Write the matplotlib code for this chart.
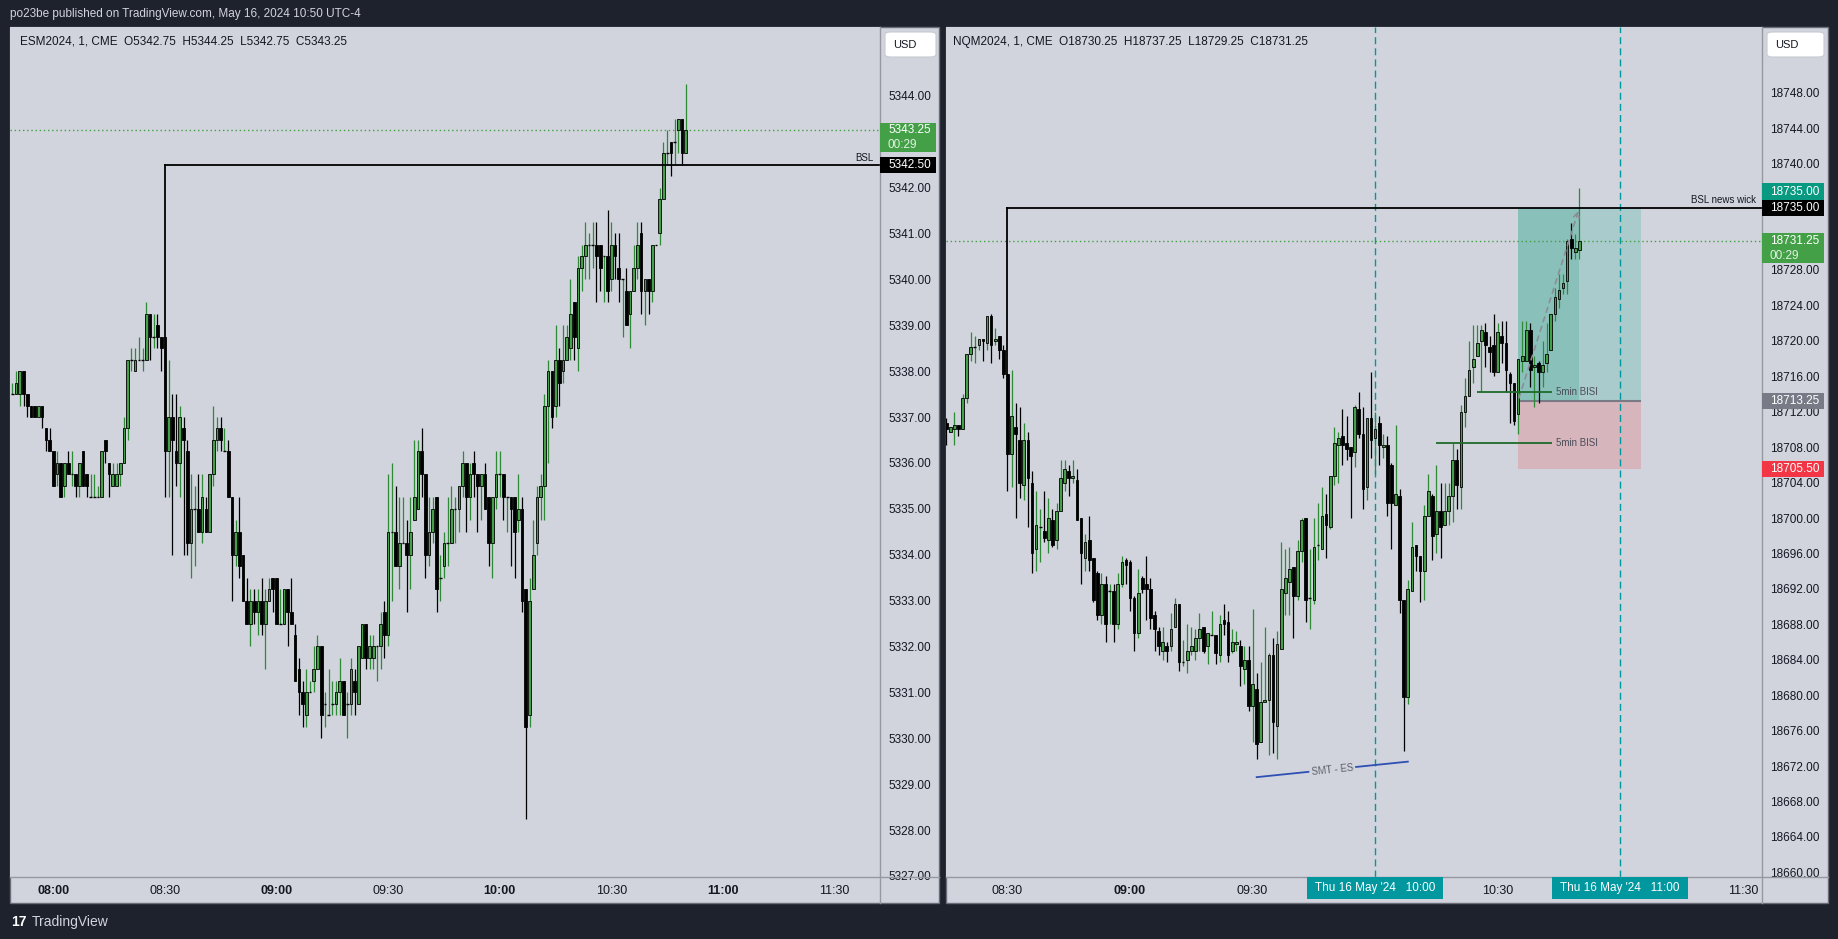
import numpy as np
import matplotlib.pyplot as plt
from matplotlib.patches import Rectangle, FancyBboxPatch
from matplotlib.lines import Line2D

plt.rcParams['font.family'] = ['Liberation Sans', 'DejaVu Sans']

# ---------------- data (1-minute bars, x = minutes after 08:00) ----------------
es_first = -11   # 07:49
es_open = [5337.5, 5337.5, 5337.5, 5338.0, 5337.5, 5337.25, 5337.25, 5337.0, 5337.25, 5336.75, 5336.5,
           5336.25, 5335.75, 5336.0, 5335.5, 5336.0, 5335.75, 5335.75, 5335.5, 5336.25, 5335.75,
           5335.25, 5335.25, 5335.25, 5335.25, 5336.5, 5336.0, 5335.5, 5335.5, 5335.75, 5336.0,
           5336.75, 5338.25, 5338.0, 5338.25, 5338.25, 5338.25, 5339.25, 5338.75, 5339.0, 5338.75,
           5338.75, 5336.25, 5337.0, 5336.25, 5336.0, 5336.75, 5336.25, 5334.25, 5335.0, 5335.0,
           5334.5, 5335.0, 5334.5, 5335.75, 5336.5, 5336.75, 5336.25, 5336.25, 5335.25, 5334.0,
           5334.5, 5334.0, 5333.0, 5332.5, 5333.0, 5332.75, 5333.0, 5332.5, 5333.0, 5333.5,
           5333.5, 5332.5, 5332.5, 5333.25, 5332.75, 5332.25, 5331.5, 5331.0, 5330.5, 5331.0,
           5331.25, 5331.5, 5332.0, 5330.75, 5330.5, 5330.75, 5330.75, 5331.0, 5331.25, 5330.75,
           5330.75, 5331.25, 5330.75, 5331.75, 5332.5, 5331.75, 5331.75, 5332.0, 5332.0, 5332.75,
           5332.25, 5334.5, 5334.5, 5333.75, 5334.25, 5334.25, 5334.0, 5334.75, 5335.0, 5336.25,
           5335.75, 5334.0, 5334.5, 5335.25, 5333.5, 5333.75, 5334.25, 5334.25, 5335.0, 5335.0,
           5335.5, 5336.0, 5335.25, 5336.0, 5335.75, 5335.5, 5335.75, 5335.25, 5334.25, 5335.25,
           5335.75, 5335.75, 5335.25, 5335.25, 5335.25, 5334.75, 5335.0, 5333.25, 5330.5, 5333.25,
           5334.25, 5335.25, 5335.5, 5337.25, 5338.0, 5337.25, 5338.25, 5338.0, 5338.25, 5338.5,
           5339.5, 5338.5, 5340.25, 5340.5, 5340.75, 5340.75, 5340.75, 5340.75, 5340.5, 5340.5,
           5340.0, 5340.75, 5340.25, 5340.0, 5339.75, 5339.25, 5339.75, 5340.25, 5341.0, 5339.75,
           5340.0, 5339.75, 5340.75, 5341.0, 5341.75, 5342.75, 5343.0, 5343.0, 5343.25, 5343.5,
           5342.75]
es_high = [5337.75, 5338.0, 5338.0, 5338.0, 5337.5, 5337.25, 5337.25, 5337.25, 5337.25, 5336.75, 5336.75,
           5336.25, 5336.25, 5336.0, 5336.0, 5336.25, 5336.25, 5335.75, 5336.0, 5336.25, 5335.75,
           5335.75, 5335.75, 5335.5, 5336.25, 5336.5, 5336.0, 5336.0, 5336.0, 5336.0, 5337.0,
           5338.25, 5338.5, 5338.5, 5338.75, 5338.5, 5339.5, 5339.25, 5339.25, 5339.25, 5338.75,
           5338.75, 5338.25, 5337.5, 5337.5, 5337.25, 5337.0, 5336.5, 5335.75, 5335.5, 5335.75,
           5335.75, 5335.25, 5335.75, 5337.25, 5337.0, 5337.0, 5336.75, 5336.5, 5335.25, 5334.75,
           5335.25, 5334.0, 5333.5, 5333.25, 5333.25, 5333.25, 5333.5, 5333.25, 5333.5, 5333.5,
           5333.5, 5333.25, 5333.25, 5333.25, 5333.5, 5332.5, 5331.75, 5331.25, 5331.5, 5331.25,
           5332.0, 5332.25, 5332.0, 5331.0, 5331.5, 5331.25, 5331.25, 5331.75, 5331.25, 5331.0,
           5331.75, 5331.5, 5332.0, 5332.5, 5332.5, 5332.25, 5332.25, 5332.0, 5332.75, 5333.0,
           5335.75, 5336.0, 5335.5, 5335.25, 5335.25, 5334.75, 5335.25, 5336.5, 5336.5, 5336.75,
           5335.75, 5335.25, 5335.25, 5335.25, 5334.0, 5334.5, 5335.25, 5335.5, 5335.25, 5335.5,
           5336.25, 5336.0, 5336.0, 5336.25, 5335.75, 5335.75, 5336.0, 5335.25, 5335.25, 5336.25,
           5336.25, 5335.75, 5335.25, 5335.25, 5335.25, 5335.75, 5335.25, 5333.25, 5333.5, 5334.75,
           5335.5, 5335.75, 5337.5, 5338.25, 5338.0, 5339.0, 5338.5, 5339.0, 5339.0, 5340.0,
           5339.5, 5340.5, 5340.75, 5341.25, 5341.0, 5341.25, 5341.25, 5340.75, 5340.5, 5341.5,
           5341.25, 5341.0, 5341.0, 5340.0, 5340.25, 5339.75, 5340.75, 5341.25, 5341.25, 5340.0,
           5340.0, 5340.75, 5340.75, 5342.0, 5343.0, 5343.25, 5343.0, 5343.5, 5343.5, 5343.5,
           5344.25]
es_low = [5337.5, 5337.5, 5337.25, 5337.25, 5337.0, 5337.0, 5337.0, 5337.0, 5336.75, 5336.25, 5336.25,
          5335.5, 5335.5, 5335.25, 5335.25, 5335.75, 5335.5, 5335.25, 5335.25, 5335.5, 5335.25,
          5335.25, 5335.25, 5335.25, 5335.25, 5336.0, 5335.25, 5335.5, 5335.5, 5335.5, 5336.0,
          5336.5, 5338.0, 5338.0, 5338.25, 5338.0, 5338.25, 5338.25, 5338.5, 5338.5, 5338.0,
          5335.25, 5335.25, 5334.0, 5335.5, 5335.25, 5334.0, 5334.0, 5333.5, 5333.75, 5334.5,
          5334.25, 5334.5, 5334.5, 5335.5, 5336.25, 5336.25, 5336.25, 5335.25, 5333.0, 5333.75,
          5333.5, 5333.0, 5332.5, 5332.0, 5332.5, 5332.25, 5332.25, 5331.5, 5333.0, 5332.75,
          5332.5, 5332.5, 5332.5, 5332.0, 5332.5, 5331.25, 5330.5, 5330.25, 5330.25, 5331.0,
          5331.0, 5331.5, 5330.0, 5330.25, 5330.5, 5330.5, 5330.5, 5330.5, 5330.5, 5330.0,
          5330.5, 5330.5, 5330.75, 5331.75, 5331.5, 5331.5, 5331.5, 5331.25, 5331.5, 5331.75,
          5332.0, 5333.0, 5333.75, 5333.25, 5334.25, 5332.75, 5333.25, 5334.75, 5335.0, 5335.25,
          5333.5, 5333.75, 5334.25, 5332.75, 5333.0, 5333.5, 5333.75, 5334.25, 5334.25, 5334.5,
          5335.25, 5334.5, 5334.75, 5335.25, 5334.5, 5334.75, 5335.0, 5333.75, 5333.5, 5335.0,
          5335.25, 5334.75, 5334.5, 5333.75, 5333.5, 5334.5, 5332.75, 5328.25, 5330.25, 5333.25,
          5334.0, 5334.75, 5334.75, 5336.0, 5336.75, 5337.0, 5337.25, 5337.75, 5338.25, 5338.25,
          5338.25, 5338.0, 5339.75, 5340.0, 5340.0, 5340.25, 5339.5, 5339.75, 5339.5, 5339.5,
          5339.75, 5340.0, 5339.5, 5338.75, 5339.0, 5338.5, 5339.75, 5340.0, 5339.25, 5339.0,
          5339.25, 5339.5, 5340.75, 5340.75, 5341.75, 5342.5, 5342.25, 5342.5, 5342.75, 5342.5,
          5342.75]
es_close = [5337.5, 5337.75, 5338.0, 5337.5, 5337.25, 5337.0, 5337.0, 5337.25, 5337.0, 5336.5, 5336.25,
            5335.5, 5336.0, 5335.25, 5336.0, 5335.75, 5335.75, 5335.5, 5336.0, 5335.5, 5335.5,
            5335.25, 5335.25, 5335.25, 5336.25, 5336.25, 5335.75, 5335.75, 5335.75, 5336.0, 5336.75,
            5338.25, 5338.25, 5338.25, 5338.25, 5338.25, 5339.25, 5338.75, 5338.75, 5338.75, 5338.5,
            5336.25, 5337.0, 5336.5, 5336.0, 5337.0, 5336.5, 5334.25, 5335.0, 5335.0, 5334.5,
            5335.25, 5334.5, 5335.75, 5336.5, 5336.75, 5336.5, 5336.25, 5335.25, 5334.0, 5334.5,
            5333.75, 5333.0, 5332.5, 5333.0, 5332.75, 5333.0, 5332.5, 5333.0, 5333.25, 5333.25,
            5332.5, 5332.5, 5333.25, 5332.75, 5332.5, 5331.25, 5331.0, 5330.75, 5331.0, 5331.0,
            5331.5, 5332.0, 5330.5, 5330.75, 5330.5, 5330.75, 5331.0, 5331.25, 5330.5, 5330.75,
            5331.5, 5331.0, 5332.0, 5332.5, 5331.75, 5332.0, 5332.0, 5332.0, 5332.5, 5332.25,
            5334.5, 5334.5, 5333.75, 5334.25, 5334.25, 5334.0, 5334.5, 5335.25, 5336.25, 5335.75,
            5334.0, 5334.5, 5335.0, 5333.25, 5333.5, 5334.25, 5334.25, 5335.0, 5335.0, 5335.5,
            5336.0, 5335.25, 5335.75, 5335.75, 5335.5, 5335.75, 5335.0, 5334.25, 5335.25, 5335.75,
            5335.75, 5335.25, 5335.25, 5335.0, 5334.5, 5335.0, 5333.0, 5330.25, 5333.0, 5334.0,
            5335.25, 5335.5, 5337.25, 5338.0, 5337.0, 5338.25, 5337.75, 5338.25, 5338.75, 5339.25,
            5338.75, 5340.25, 5340.5, 5340.75, 5340.75, 5340.75, 5340.5, 5340.25, 5340.5, 5339.75,
            5340.75, 5340.5, 5340.0, 5340.0, 5339.0, 5339.75, 5340.25, 5340.75, 5339.75, 5340.0,
            5339.75, 5340.75, 5340.75, 5341.75, 5342.75, 5342.75, 5342.75, 5343.0, 5343.5, 5342.75,
            5343.25]

nq_first = 15   # 08:15
nq_open = [18710.75, 18709.75, 18710.0, 18710.5, 18710.0, 18713.5, 18718.5, 18719.25, 18719.5, 18720.25,
           18719.75, 18722.75, 18720.0, 18720.5, 18719.0, 18716.25, 18707.25, 18710.25, 18708.75, 18703.75,
           18708.75, 18704.0, 18696.5, 18699.0, 18698.5, 18697.5, 18699.75, 18697.5, 18700.75, 18704.0,
           18705.25, 18704.5, 18704.25, 18700.0, 18695.5, 18697.5, 18695.5, 18693.75, 18689.0, 18692.5,
           18691.75, 18691.75, 18688.0, 18692.5, 18695.25, 18695.0, 18691.0, 18687.0, 18693.25, 18692.5,
           18692.0, 18689.0, 18687.25, 18685.0, 18685.5, 18685.5, 18687.75, 18690.25, 18683.75, 18684.0,
           18685.0, 18685.0, 18686.5, 18687.75, 18685.5, 18686.75, 18686.75, 18684.5, 18688.5, 18688.25,
           18685.0, 18685.75, 18685.5, 18683.0, 18684.0, 18678.75, 18680.75, 18674.75, 18679.25, 18679.5,
           18684.5, 18676.5, 18685.25, 18691.5, 18692.75, 18694.5, 18691.25, 18696.25, 18700.0, 18691.0,
           18690.75, 18697.0, 18696.5, 18700.5, 18699.0, 18704.75, 18708.25, 18709.25, 18708.5, 18708.0,
           18707.5, 18712.25, 18709.5, 18703.5, 18711.25, 18709.0, 18710.75, 18708.0, 18708.25, 18706.0,
           18701.5, 18702.5, 18690.75, 18679.75, 18691.75, 18697.0, 18695.75, 18694.0, 18700.25, 18702.5,
           18698.25, 18700.75, 18699.25, 18700.75, 18702.5, 18706.5, 18703.5, 18712.0, 18713.75, 18717.0,
           18718.25, 18720.0, 18721.0, 18719.25, 18719.5, 18716.5, 18720.5, 18719.75, 18716.25, 18715.25,
           18711.75, 18717.75, 18717.75, 18721.25, 18717.0, 18717.5, 18716.5, 18717.5, 18719.0, 18723.0,
           18724.75, 18726.0, 18726.75, 18731.5, 18730.0, 18730.25]
nq_high = [18711.25, 18710.25, 18712.0, 18710.5, 18714.0, 18718.5, 18721.0, 18720.5, 18720.25, 18720.25,
           18722.75, 18723.0, 18721.5, 18720.5, 18719.5, 18716.25, 18716.75, 18713.0, 18712.5, 18710.75,
           18709.75, 18705.25, 18703.0, 18701.0, 18703.0, 18702.25, 18701.0, 18701.75, 18706.5, 18706.5,
           18706.0, 18706.5, 18705.5, 18700.0, 18698.25, 18700.25, 18695.5, 18694.0, 18693.75, 18693.5,
           18692.5, 18692.5, 18693.75, 18695.75, 18695.5, 18695.25, 18691.25, 18694.25, 18693.5, 18695.75,
           18693.25, 18689.5, 18687.75, 18687.75, 18686.0, 18689.25, 18691.0, 18690.25, 18686.25, 18688.0,
           18687.75, 18687.5, 18689.25, 18687.75, 18687.0, 18689.5, 18686.75, 18689.0, 18690.25, 18689.5,
           18687.5, 18687.25, 18686.25, 18685.5, 18685.5, 18689.75, 18682.5, 18683.75, 18687.75, 18684.75,
           18686.5, 18687.25, 18697.25, 18696.5, 18696.75, 18694.5, 18697.5, 18700.0, 18700.0, 18696.5,
           18700.0, 18701.75, 18703.5, 18702.75, 18704.75, 18710.25, 18709.75, 18712.25, 18711.5, 18708.0,
           18712.75, 18714.25, 18712.5, 18711.25, 18716.5, 18712.0, 18711.5, 18709.5, 18709.25, 18706.25,
           18710.5, 18703.25, 18690.75, 18693.0, 18699.5, 18697.0, 18695.75, 18701.5, 18705.0, 18702.75,
           18706.0, 18704.0, 18704.0, 18704.0, 18708.5, 18707.75, 18712.75, 18715.75, 18720.0, 18721.75,
           18721.75, 18721.75, 18722.0, 18720.5, 18723.0, 18722.0, 18722.25, 18722.25, 18716.5, 18715.25,
           18718.0, 18722.25, 18722.25, 18722.0, 18718.25, 18717.75, 18720.0, 18722.0, 18723.0, 18726.0,
           18727.5, 18727.5, 18731.5, 18733.25, 18732.0, 18737.25]
nq_low = [18708.25, 18709.75, 18708.25, 18709.25, 18710.0, 18713.0, 18717.75, 18717.5, 18719.0, 18717.75,
          18719.0, 18717.5, 18719.5, 18718.0, 18715.75, 18703.0, 18703.5, 18700.0, 18702.25, 18702.0,
          18699.0, 18693.75, 18694.0, 18695.0, 18697.25, 18696.0, 18696.75, 18696.5, 18700.75, 18703.0,
          18702.5, 18704.0, 18699.75, 18692.5, 18694.0, 18694.0, 18690.5, 18688.5, 18688.0, 18686.0,
          18688.0, 18686.0, 18687.5, 18692.25, 18692.5, 18689.5, 18685.0, 18686.5, 18691.5, 18688.5,
          18687.5, 18685.0, 18684.5, 18684.0, 18683.75, 18685.0, 18687.75, 18682.75, 18683.25, 18682.5,
          18684.5, 18684.0, 18685.0, 18684.75, 18683.5, 18686.75, 18683.5, 18683.75, 18686.75, 18683.75,
          18684.75, 18685.0, 18681.0, 18681.25, 18678.25, 18674.75, 18672.75, 18674.75, 18679.25, 18673.25,
          18673.5, 18672.75, 18685.25, 18689.0, 18689.0, 18686.5, 18690.75, 18695.0, 18688.25, 18687.5,
          18690.25, 18695.25, 18696.5, 18695.5, 18698.75, 18703.75, 18704.0, 18706.0, 18706.5, 18700.0,
          18705.75, 18709.0, 18701.0, 18702.0, 18706.75, 18705.0, 18706.0, 18706.75, 18700.25, 18696.5,
          18701.5, 18689.25, 18673.75, 18679.0, 18691.75, 18694.0, 18690.5, 18690.75, 18700.25, 18695.25,
          18696.0, 18695.5, 18699.25, 18699.25, 18699.5, 18701.0, 18701.0, 18710.25, 18713.75, 18715.25,
          18718.25, 18714.25, 18717.0, 18716.5, 18716.0, 18716.5, 18717.5, 18714.25, 18710.75, 18710.5,
          18709.5, 18716.5, 18717.75, 18714.75, 18712.5, 18713.0, 18714.75, 18716.5, 18719.0, 18722.25,
          18723.75, 18725.25, 18725.25, 18729.25, 18729.25, 18729.25]
nq_close = [18710.0, 18710.25, 18710.5, 18710.0, 18713.5, 18718.5, 18719.25, 18719.25, 18720.25, 18720.0,
            18722.75, 18719.5, 18720.25, 18719.0, 18716.25, 18707.25, 18711.5, 18709.5, 18704.0, 18708.75,
            18704.5, 18696.0, 18699.25, 18699.0, 18697.75, 18700.0, 18697.0, 18700.75, 18704.5, 18705.5,
            18704.5, 18704.75, 18699.75, 18696.0, 18697.25, 18695.25, 18690.75, 18689.0, 18692.5, 18688.0,
            18691.75, 18688.0, 18692.5, 18695.0, 18694.75, 18691.0, 18687.0, 18691.5, 18692.0, 18692.0,
            18688.75, 18687.5, 18685.5, 18686.0, 18685.0, 18687.5, 18690.25, 18683.75, 18683.75, 18685.0,
            18685.5, 18686.5, 18687.5, 18685.0, 18687.0, 18686.75, 18684.75, 18688.0, 18688.0, 18684.5,
            18686.0, 18686.0, 18683.25, 18684.0, 18678.75, 18681.25, 18674.5, 18679.25, 18679.5, 18684.5,
            18677.0, 18685.75, 18692.0, 18693.25, 18694.25, 18691.25, 18696.25, 18699.75, 18690.75, 18691.0,
            18696.75, 18697.0, 18700.25, 18699.25, 18704.75, 18708.5, 18709.0, 18708.25, 18707.75, 18707.0,
            18712.5, 18709.5, 18703.25, 18711.25, 18708.75, 18710.0, 18708.25, 18708.25, 18701.75, 18701.75,
            18702.75, 18690.75, 18679.75, 18692.0, 18696.75, 18695.75, 18694.0, 18700.25, 18703.0, 18698.0,
            18700.75, 18699.0, 18700.75, 18702.5, 18706.5, 18703.75, 18712.0, 18713.75, 18716.75, 18718.0,
            18719.75, 18721.25, 18719.5, 18718.75, 18716.5, 18721.0, 18719.75, 18716.75, 18715.25, 18711.0,
            18718.0, 18718.25, 18721.25, 18716.75, 18717.25, 18716.5, 18717.25, 18718.5, 18723.0, 18725.0,
            18725.75, 18726.5, 18731.25, 18730.5, 18730.5, 18731.25]

# axis labels (labels hidden under the price / time tags are left out)
es_yticks = [5327, 5328, 5329, 5330, 5331, 5332, 5333, 5334, 5335, 5336, 5337, 5338,
             5339, 5340, 5341, 5342, 5344]
nq_yticks = [18660, 18664, 18668, 18672, 18676, 18680, 18684, 18688, 18692, 18696, 18700,
             18704, 18708, 18712, 18716, 18720, 18724, 18728, 18740, 18744, 18748]
es_ticks_t = [0, 30, 60, 90, 120, 150, 180, 210]
es_tick_lbl = ['08:00', '08:30', '09:00', '09:30', '10:00', '10:30', '11:00', '11:30']
nq_ticks_t = [30, 60, 90, 150, 210]
nq_tick_lbl = ['08:30', '09:00', '09:30', '10:30', '11:30']

# drawings
es_bsl, es_bsl_t, es_bsl_anchor = 5342.5, 30, 5338.75
nq_bsl, nq_bsl_t, nq_bsl_anchor = 18735.0, 30, 18716.25
nq_session_t = [120, 180]
nq_session_lbl = ["Thu 16 May '24   10:00", "Thu 16 May '24   11:00"]
nq_entry, nq_target, nq_stop = 18713.25, 18735.0, 18705.5
nq_pos_t = [155, 170, 185]          # start, current bar, end
nq_bisi = [(18714.25, 145, 163.3), (18708.5, 135, 163.3)]
nq_smt = [(91, 18670.75), (128, 18672.5)]

# ---------------- layout ----------------
W, H = 1838, 939
BG, PANEL, INK = '#1e222d', '#d1d4dc', '#131722'
UP_BODY, UP_WICK = '#43a047', '#2e8b35'
TEAL = '#00979f'
SEP = '#9598a1'

fig = plt.figure(figsize=(W / 100, H / 100), dpi=100, facecolor=BG)


def px_rect(x0, y0, x1, y1, **kw):
    fig.add_artist(Rectangle((x0 / W, 1 - y1 / H), (x1 - x0) / W, (y1 - y0) / H,
                             transform=fig.transFigure, **kw))


def px_text(x, y, s, **kw):
    fig.text(x / W, 1 - y / H, s, **kw)


def px_line(xs, ys, **kw):
    fig.add_artist(Line2D([x / W for x in xs], [1 - y / H for y in ys],
                          transform=fig.transFigure, **kw))


def candles(ax, first, o, h, l, c, width):
    o, h, l, c = map(np.asarray, (o, h, l, c))
    h = np.maximum(h, np.maximum(o, c))
    l = np.minimum(l, np.minimum(o, c))
    t = first + np.arange(len(o))
    up, dn, fl = c > o, c < o, c == o
    ax.vlines(t[up | fl], l[up | fl], h[up | fl], color=UP_WICK, lw=0.9, zorder=2)
    ax.vlines(t[dn], l[dn], h[dn], color='black', lw=0.9, zorder=2)
    ax.bar(t[up], c[up] - o[up], width, bottom=o[up], color=UP_BODY,
           edgecolor='black', lw=0.6, zorder=3)
    ax.bar(t[dn], o[dn] - c[dn], width, bottom=c[dn], color='black',
           edgecolor='black', lw=0.6, zorder=3)
    ax.hlines(c[fl], t[fl] - width / 2, t[fl] + width / 2, color='black', lw=1.0, zorder=3)


def panel(left, right, plot_right, xlim, ylim, yticks, ticks_t, tick_lbl):
    px_rect(left, 27, right, 903, facecolor=PANEL, edgecolor='#6a6d78', lw=1, zorder=-5)
    ax = fig.add_axes([left / W, 1 - 877 / H, (plot_right - left) / W, 850 / H])
    ax.set_facecolor(PANEL)
    for s in ax.spines.values():
        s.set_visible(False)
    ax.set_xlim(*xlim)
    ax.set_ylim(*ylim)
    ax.yaxis.tick_right()
    ax.set_yticks(yticks)
    ax.set_yticklabels([f'{v:.2f}' for v in yticks])
    ax.tick_params(axis='y', length=0, pad=6, labelsize=8.5, labelcolor=INK)
    ax.set_xticks(ticks_t)
    ax.set_xticklabels(tick_lbl)
    ax.tick_params(axis='x', length=0, pad=6, labelsize=9, labelcolor=INK)
    for lbl in ax.get_xticklabels():
        if lbl.get_text().endswith(':00'):
            lbl.set_fontweight('bold')
    px_line([plot_right, plot_right], [27, 903], color=SEP, lw=1, zorder=4)
    px_line([left, right], [877, 877], color=SEP, lw=1, zorder=4)
    return ax


def mapper(left, plot_right, xlim, ylim):
    def f(t, p):
        x = left + (t - xlim[0]) / (xlim[1] - xlim[0]) * (plot_right - left)
        y = 27 + (ylim[1] - p) / (ylim[1] - ylim[0]) * 850
        return x, y
    return f


def tag(x0, x1, y0, y1, color, texts):
    px_rect(x0, y0, x1, y1, facecolor=color, edgecolor='none', zorder=5)
    for yy, s, a in texts:
        px_text(x0 + 8, yy, s, color='white', fontsize=8.5, va='center', ha='left',
                alpha=a, zorder=6)


def usd(x0, x1):
    fig.add_artist(FancyBboxPatch((x0 / W, 1 - 57 / H), (x1 - x0) / W, 25 / H,
                                  boxstyle='round,pad=0,rounding_size=0.003',
                                  transform=fig.transFigure, facecolor='white',
                                  edgecolor='#c8cad2', lw=0.8, zorder=5))
    px_text(x0 + 8, 45, 'USD', color=INK, fontsize=8, va='center', ha='left', zorder=6)


# ---------------- ES panel ----------------
es_xlim, es_ylim = (-11.64, 222.2), (5326.978, 5345.497)
ax1 = panel(10, 939, 880, es_xlim, es_ylim, es_yticks, es_ticks_t, es_tick_lbl)
candles(ax1, es_first, es_open, es_high, es_low, es_close, 0.72)
ax1.axhline(es_close[-1], color='#43a047', lw=1, ls=(0, (1, 2)), zorder=1)
ax1.plot([es_bsl_t, es_xlim[1]], [es_bsl, es_bsl], color='black', lw=1.3, zorder=4)
ax1.plot([es_bsl_t, es_bsl_t], [es_bsl, es_bsl_anchor], color='black', lw=1.3, zorder=4)
m1 = mapper(10, 880, es_xlim, es_ylim)
_, yb = m1(0, es_bsl)
px_text(874, yb - 7, 'BSL', color=INK, fontsize=7, ha='right', va='center')
_, yc = m1(0, es_close[-1])
tag(880, 936, yc - 7.5, yc + 21.5, '#43a047',
    [(yc, f'{es_close[-1]:.2f}', 1), (yc + 14.5, '00:29', 0.85)])
tag(880, 936, yb - 8, yb + 8, 'black', [(yb, f'{es_bsl:.2f}', 1)])
usd(885, 936)
px_text(20, 42, 'ESM2024, 1, CME  O5342.75  H5344.25  L5342.75  C5343.25',
        color=INK, fontsize=8.5, va='center')

# ---------------- NQ panel ----------------
nq_xlim, nq_ylim = (14.95, 214.7), (18659.48, 18755.42)
ax2 = panel(946, 1828, 1762, nq_xlim, nq_ylim, nq_yticks, nq_ticks_t, nq_tick_lbl)
m2 = mapper(946, 1762, nq_xlim, nq_ylim)

t0, tc, t1 = nq_pos_t
ax2.add_patch(Rectangle((t0, nq_entry), t1 - t0, nq_target - nq_entry,
                        facecolor='#a9cbcb', edgecolor='none', zorder=1))
ax2.add_patch(Rectangle((t0, nq_entry), tc - t0, nq_target - nq_entry,
                        facecolor='#8ac0ba', edgecolor='none', zorder=1))
ax2.add_patch(Rectangle((t0, nq_stop), t1 - t0, nq_entry - nq_stop,
                        facecolor='#d6b5bd', edgecolor='none', zorder=1))
ax2.hlines(nq_entry, t0, t1, color='#787b86', lw=1.5, zorder=1.5)

for ts in nq_session_t:
    ax2.axvline(ts, color=TEAL, lw=1, ls=(0, (5, 3)), zorder=1.2)

candles(ax2, nq_first, nq_open, nq_high, nq_low, nq_close, 0.66)
ax2.axhline(nq_close[-1], color='#43a047', lw=1, ls=(0, (1, 2)), zorder=1.3)

ax2.annotate('', xy=(tc, nq_target), xytext=(t0, nq_entry),
             arrowprops=dict(arrowstyle='->', ls=(0, (3, 3)), color='#8a8d96', lw=1.2),
             zorder=4)

ax2.plot([nq_bsl_t, nq_xlim[1]], [nq_bsl, nq_bsl], color='black', lw=1.3, zorder=4)
ax2.plot([nq_bsl_t, nq_bsl_t], [nq_bsl, nq_bsl_anchor], color='black', lw=1.3, zorder=4)

for price, ta, tb in nq_bisi:
    ax2.hlines(price, ta, tb, color='#1e6b2a', lw=1.3, zorder=4)
    ax2.text(tb + 1, price, '5min BISI', fontsize=7, color='#4a4d57', va='center',
             ha='left', zorder=4)

(sx0, sy0), (sx1, sy1) = nq_smt
ax2.plot([sx0, sx1], [sy0, sy1], color='#2e4fb3', lw=1.3, zorder=4)
pa = m2(sx0, sy0)
pb = m2(sx1, sy1)
ang = np.degrees(np.arctan2(pa[1] - pb[1], pb[0] - pa[0]))
ax2.text((sx0 + sx1) / 2, (sy0 + sy1) / 2, 'SMT - ES', fontsize=7, color='#5d606b',
         rotation=ang, rotation_mode='anchor', ha='center', va='center', zorder=5,
         bbox=dict(facecolor=PANEL, edgecolor='none', pad=1.5))

_, yb2 = m2(0, nq_bsl)
px_text(1756, yb2 - 8, 'BSL news wick', color=INK, fontsize=7, ha='right', va='center')
tag(1762, 1824, yb2 - 24.5, yb2 - 8, '#089981', [(yb2 - 16.3, f'{nq_target:.2f}', 1)])
tag(1762, 1824, yb2 - 8, yb2 + 8, 'black', [(yb2, f'{nq_bsl:.2f}', 1)])
_, yc2 = m2(0, nq_close[-1])
tag(1762, 1824, yc2 - 8.4, yc2 + 22, '#43a047',
    [(yc2, f'{nq_close[-1]:.2f}', 1), (yc2 + 15, '00:29', 0.85)])
_, ye = m2(0, nq_entry)
tag(1762, 1824, ye - 8, ye + 8, '#787b86', [(ye, f'{nq_entry:.2f}', 1)])
_, ys = m2(0, nq_stop)
tag(1762, 1824, ys - 8, ys + 8, '#f23645', [(ys, f'{nq_stop:.2f}', 1)])

for ts, lab in zip(nq_session_t, nq_session_lbl):
    xs, _ = m2(ts, nq_ylim[0])
    px_rect(xs - 68, 877, xs + 68, 899, facecolor=TEAL, edgecolor='none', zorder=5)
    px_text(xs, 888.5, lab, color='white', fontsize=8.5, ha='center', va='center', zorder=6)

usd(1767, 1824)
px_text(953, 42, 'NQM2024, 1, CME  O18730.25  H18737.25  L18729.25  C18731.25',
        color=INK, fontsize=8.5, va='center')

# ---------------- page chrome ----------------
px_text(10, 14.5, 'po23be published on TradingView.com, May 16, 2024 10:50 UTC-4',
        color='#d1d4dc', fontsize=8.5, va='center')
px_text(11, 922, '17', color='white', fontsize=10, fontweight='bold', va='center')
px_text(32, 922, 'TradingView', color='#d1d4dc', fontsize=10, va='center')

fig.savefig('out.png', dpi=100, facecolor=BG)
